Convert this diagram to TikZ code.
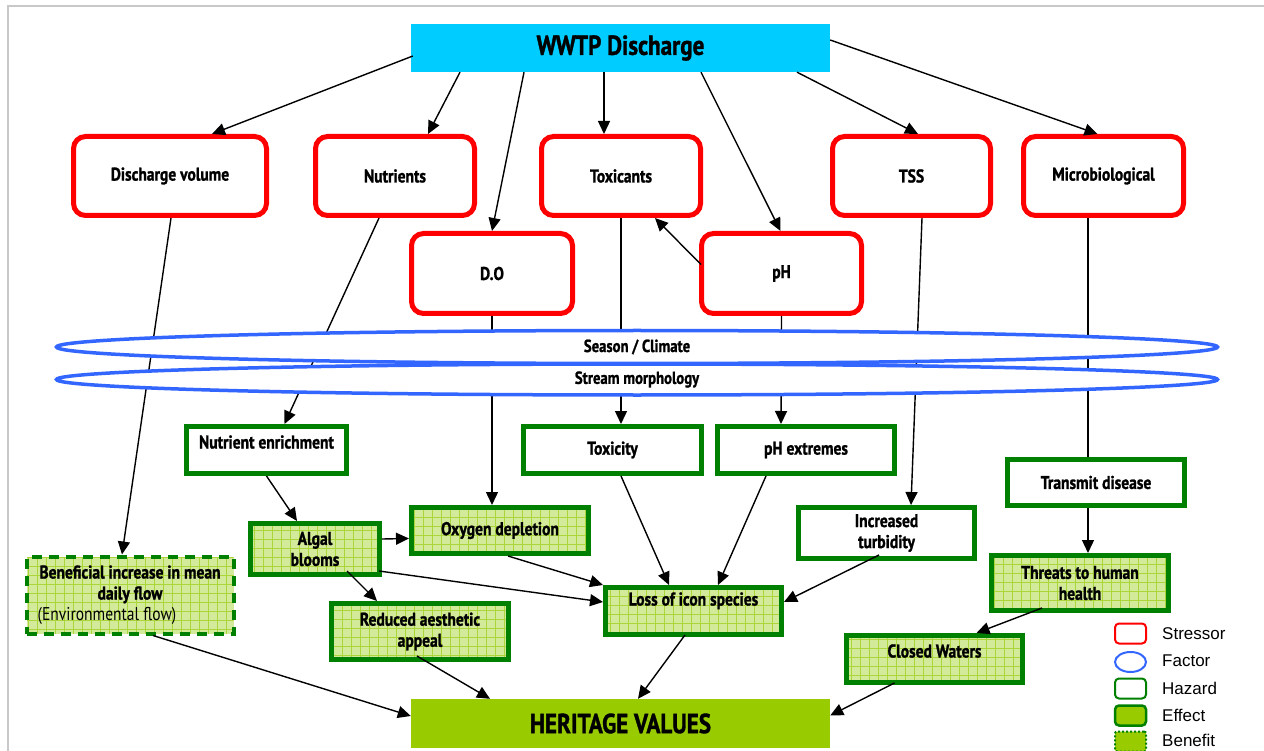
\documentclass[tikz,border=0pt]{standalone}
\usepackage{fontspec}
\setmainfont{PT Sans}[FakeStretch=0.84, BoldFont={PT Sans Bold}, BoldFeatures={FakeStretch=0.84, FakeBold=1.2}]
\newfontfamily\legendfont{Liberation Sans}
\usetikzlibrary{shapes.geometric,arrows.meta,calc}

\definecolor{stred}{HTML}{FF0000}
\definecolor{hzgreen}{HTML}{008000}
\definecolor{fcblue}{HTML}{3366FF}
\definecolor{wwcyan}{HTML}{00CCFF}
\definecolor{hvgreen}{HTML}{99CC00}
\definecolor{effill}{HTML}{D3EA9B}
\definecolor{efgrid}{HTML}{ABD63A}
\definecolor{framegray}{HTML}{C8C8C8}

\tikzset{
  boxtext/.style={font=\fontsize{18.5}{21}\selectfont\bfseries, align=center, inner sep=0pt},
  stressor/.style={boxtext, draw=stred, line width=5pt, rounded corners=12pt, fill=white},
  hazard/.style={boxtext, draw=hzgreen, line width=5pt, fill=white},
  gridfill/.style={fill=effill, path picture={\draw[efgrid, solid, line width=0.6pt, step=9pt]
      (path picture bounding box.south west) grid (path picture bounding box.north east);}},
  effect/.style={boxtext, draw=hzgreen, line width=5pt, gridfill},
  benefit/.style={boxtext, draw=hzgreen, line width=4pt, dash pattern=on 10pt off 7pt, gridfill},
  factor/.style={ellipse, draw=fcblue, line width=3.5pt, fill=white, inner sep=0pt,
      font=\fontsize{17.5}{19}\selectfont\bfseries},
  banner/.style={inner sep=0pt, font=\fontsize{27.5}{30}\selectfont\bfseries},
  raised/.style={text height=13pt, text depth=#1},
  conn/.style={draw=black, line width=1.4pt, -{Triangle[length=13pt,width=12pt]}},
  link/.style={draw=black, line width=1.4pt},
  legtext/.style={anchor=west, inner sep=0pt, font=\legendfont\fontsize{17}{19}\selectfont},
  legbox/.style={minimum width=31pt, minimum height=20pt, inner sep=0pt, rounded corners=4pt},
}

\begin{document}
\begin{tikzpicture}[x=1pt, y=-1pt]
\useasboundingbox (0,0) rectangle (1264,751);
\fill[white] (0,0) rectangle (1264,751);
\draw[framegray, line width=1.5pt] (8,751) -- (8,6) -- (1264,6);

% source and receptor
\node[banner, fill=wwcyan, minimum width=419pt, minimum height=48pt] (ww) at (620.5,48) {WWTP Discharge};
\node[banner, fill=hvgreen, minimum width=419pt, minimum height=49pt] (hv) at (620.5,723.5) {HERITAGE VALUES};

% stressors
\node[stressor, minimum width=193pt, minimum height=79pt] (dv)  at (170,176)   {Discharge volume};
\node[stressor, minimum width=159pt, minimum height=79pt] (nut) at (395,176)   {Nutrients};
\node[stressor, minimum width=159pt, minimum height=79pt] (tox) at (621,176)   {Toxicants};
\node[stressor, minimum width=158pt, minimum height=79pt] (tss) at (911.5,176) {TSS};
\node[stressor, minimum width=160pt, minimum height=79pt] (mic) at (1103.5,176) {Microbiological};
\node[stressor, minimum width=161pt, minimum height=80pt] (do)  at (492,273.5) {D.O};
\node[stressor, minimum width=160pt, minimum height=80pt] (ph)  at (781.5,273.5) {pH};

% hazards
\node[hazard, raised=16pt, minimum width=160pt, minimum height=47pt] (ne) at (266.5,450) {Nutrient enrichment};
\node[hazard, minimum width=178pt, minimum height=47pt] (toxy) at (612.5,450) {Toxicity};
\node[hazard, minimum width=177pt, minimum height=47pt] (phx)  at (806,450)   {pH extremes};
\node[hazard, minimum width=177pt, minimum height=46pt] (td)   at (1096,482.5) {Transmit disease};
\node[hazard, minimum width=176pt, minimum height=51pt] (it)   at (886.5,533) {Increased\\turbidity};

% effects
\node[effect, minimum width=129pt, minimum height=51pt] (ab)  at (315,549)   {Algal\\blooms};
\node[effect, minimum width=177pt, minimum height=46pt] (od)  at (500,530.5) {Oxygen depletion};
\node[effect, minimum width=177pt, minimum height=56pt] (ra)  at (420,631.5) {Reduced aesthetic\\appeal};
\node[effect, raised=24pt, minimum width=176pt, minimum height=47pt] (lis) at (693.5,611) {Loss of icon species};
\node[effect, minimum width=177pt, minimum height=55pt] (th)  at (1080,583)  {Threats to human\\health};
\node[effect, raised=16pt, minimum width=176pt, minimum height=47pt] (cw) at (934.5,659) {Closed Waters};

% benefit
\node[benefit, minimum width=207pt, minimum height=77pt] (ben) at (130,595)
  {Beneficial increase in mean\\daily flow\\{\mdseries(Environmental flow)}\hspace*{46pt}};

% connectors from the discharge
\draw[conn] ($(ww.west)+(2,8)$)      -- ($(dv.north)+(42,0)$);
\draw[conn] ($(ww.south)+(-160.5,0)$) -- ($(nut.north)+(33,0)$);
\draw[conn] ($(ww.south)+(-96.5,0)$)  -- (do.north);
\draw[conn] ($(ww.south)+(-16.5,0)$)  -- ($(tox.north)+(-17,0)$);
\draw[conn] ($(ww.south)+(80.5,0)$)   -- ($(ph.north)+(-1,0)$);
\draw[conn] ($(ww.south)+(176.5,0)$)  -- ($(tss.north)+(6.5,0)$);
\draw[conn] ($(ww.east)+(0,-8)$)      -- ($(mic.north)+(-6,0)$);
\draw[conn] ($(ph.west)+(2,-9)$)      -- ($(tox.south)+(34,0)$);

% stressor to hazard, through season and morphology
\draw[conn] ($(dv.south)+(1,0)$)    -- ($(ben.north)+(-8,0)$);
\draw[conn] ($(nut.south)+(-16,0)$) -- ($(ne.north)+(18,0)$);
\draw[conn] (do.south)              -- ($(od.north)+(-8,0)$);
\draw[conn] (tox.south)             -- ($(toxy.north)+(8.5,0)$);
\draw[conn] (ph.south)              -- ($(phx.north)+(-25,0)$);
\draw[conn] ($(tss.south)+(10.5,0)$) -- ($(it.north)+(24.5,0)$);
\draw[link] ($(mic.south)+(-15.5,0)$) -- ($(td.north)+(-8,0)$);

% hazard to effect
\draw[conn] (ne.south)                -- ($(ab.north)+(-18,0)$);
\draw[conn] ($(ab.east)+(0,-10)$)     -- ($(od.west)+(0,8)$);
\draw[conn] ($(ab.south)+(32,-6)$)    -- ($(ra.north)+(-43,0)$);
\draw[conn] ($(ab.east)+(-3,22)$)     -- ($(lis.west)+(0,-9)$);
\draw[conn] ($(od.south)+(8,0)$)      -- (lis.north west);
\draw[conn] ($(toxy.south)+(8.5,0)$)  -- ($(lis.north)+(-24.5,0)$);
\draw[conn] ($(phx.south)+(-40,0)$)   -- ($(lis.north)+(24.5,0)$);
\draw[conn] ($(it.south)+(-7.5,-6)$)  -- ($(lis.east)+(0,-9)$);
\draw[conn] ($(td.south)+(-8,0)$)     -- ($(th.north)+(8,0)$);
\draw[conn] ($(th.south)+(-38,-5)$)   -- ($(cw.north)+(42,0)$);

% effect to heritage values
\draw[conn] ($(ben.south)+(23,0)$)    -- ($(hv.west)+(0,-7.5)$);
\draw[conn] ($(ra.south)+(-3,-6)$)    -- ($(hv.north)+(-130.5,0)$);
\draw[conn] ($(lis.south)+(-8.5,-2)$) -- ($(hv.north)+(17.5,0)$);
\draw[conn] ($(cw.south)+(-40,-2)$)   -- ($(hv.east)+(0,-8)$);

% modifying factors, laid over the connectors
\node[factor, minimum width=1161pt, minimum height=33pt] (sc) at (637,347)   {Season / Climate};
\node[factor, minimum width=1161pt, minimum height=31pt] (sm) at (637,379.5) {Stream morphology};

% legend
\node[legbox, draw=stred, line width=2pt] (lgs) at (1130.5,633.5) {};
\node[legbox, ellipse, draw=fcblue, line width=2pt] (lgf) at (1130.5,662) {};
\node[legbox, draw=hzgreen, line width=2pt] (lgh) at (1130.5,688.5) {};
\node[legbox, draw=hzgreen, line width=2.5pt, fill=hvgreen] (lge) at (1130.5,715.5) {};
\node[legbox, draw=hzgreen, line width=2pt, dotted, fill=hvgreen, rounded corners=2pt] (lgb) at (1130.5,741.5) {};
\node[legtext] (lts) at (1162,633.5) {Stressor};
\node[legtext] (ltf) at (1162,661)   {Factor};
\node[legtext] (lth) at (1162,688)   {Hazard};
\node[legtext] (lte) at (1162,715)   {Effect};
\node[legtext] (ltb) at (1162,740.5) {Benefit};
\end{tikzpicture}
\end{document}
